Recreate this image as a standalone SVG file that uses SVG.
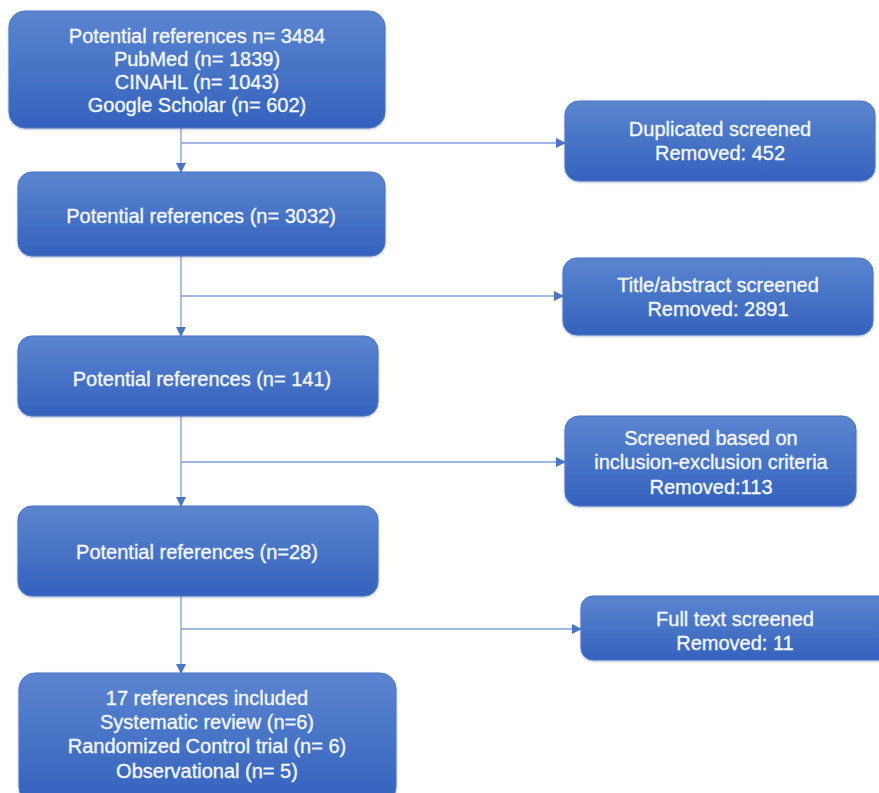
<svg xmlns="http://www.w3.org/2000/svg" width="879" height="793" viewBox="0 0 879 793">
<defs>
<linearGradient id="g" x1="0" y1="0" x2="0" y2="1">
<stop offset="0" stop-color="#5b85d0"/>
<stop offset="1" stop-color="#3462bd"/>
</linearGradient>
<marker id="ah" markerWidth="10" markerHeight="10" refX="9" refY="5" orient="auto" markerUnits="userSpaceOnUse">
<path d="M0,0 L10,5 L0,10 Z" fill="#4a76c6"/>
</marker>
<filter id="sh" x="-5%" y="-5%" width="110%" height="115%">
<feDropShadow dx="0" dy="1" stdDeviation="1" flood-color="#1e3a78" flood-opacity="0.35"/>
</filter>
</defs>
<style>
.box{fill:url(#g);stroke:#4a74c2;stroke-width:1;filter:url(#sh)}
.t{font-family:"Liberation Sans",Arial,sans-serif;font-size:20px;fill:#f4f7fc;stroke:#f4f7fc;stroke-width:0.35;text-anchor:middle}
.c{stroke:#7f9fd8;stroke-width:1.3;fill:none}
</style>
<rect width="879" height="793" fill="#ffffff"/>
<g id="connectors">
<line class="c" x1="181" y1="128" x2="181" y2="172" marker-end="url(#ah)"/>
<line class="c" x1="181" y1="143" x2="565" y2="143" marker-end="url(#ah)"/>
<line class="c" x1="181" y1="256" x2="181" y2="336" marker-end="url(#ah)"/>
<line class="c" x1="181" y1="296" x2="563" y2="296" marker-end="url(#ah)"/>
<line class="c" x1="181" y1="416" x2="181" y2="506" marker-end="url(#ah)"/>
<line class="c" x1="181" y1="462" x2="565" y2="462" marker-end="url(#ah)"/>
<line class="c" x1="181" y1="596" x2="181" y2="673" marker-end="url(#ah)"/>
<line class="c" x1="181" y1="629" x2="581" y2="629" marker-end="url(#ah)"/>
</g>
<g id="n1">
<rect class="box" x="9" y="11" width="376" height="117" rx="16"/>
<text class="t" x="197" y="42.5">Potential references n= 3484</text>
<text class="t" x="197" y="65.5">PubMed (n= 1839)</text>
<text class="t" x="197" y="88.5">CINAHL (n= 1043)</text>
<text class="t" x="197" y="111.5">Google Scholar (n= 602)</text>
</g>
<g id="n2">
<rect class="box" x="18" y="172" width="367" height="84" rx="14"/>
<text class="t" x="201" y="223">Potential references (n= 3032)</text>
</g>
<g id="n3">
<rect class="box" x="18" y="336" width="360" height="80" rx="14"/>
<text class="t" x="202" y="386">Potential references (n= 141)</text>
</g>
<g id="n4">
<rect class="box" x="18" y="506" width="360" height="90" rx="14"/>
<text class="t" x="197" y="559">Potential references (n=28)</text>
</g>
<g id="n5">
<rect class="box" x="19" y="673" width="377" height="130" rx="16"/>
<text class="t" x="207" y="705">17 references included</text>
<text class="t" x="207" y="729">Systematic review (n=6)</text>
<text class="t" x="207" y="753">Randomized Control trial (n= 6)</text>
<text class="t" x="207" y="778">Observational (n= 5)</text>
</g>
<g id="r1">
<rect class="box" x="565" y="101" width="310" height="80" rx="14"/>
<text class="t" x="720" y="136">Duplicated screened</text>
<text class="t" x="720" y="160">Removed: 452</text>
</g>
<g id="r2">
<rect class="box" x="563" y="258" width="310" height="77" rx="14"/>
<text class="t" x="718" y="292">Title/abstract screened</text>
<text class="t" x="718" y="316">Removed: 2891</text>
</g>
<g id="r3">
<rect class="box" x="565" y="416" width="291" height="90" rx="14"/>
<text class="t" x="711" y="445">Screened based on</text>
<text class="t" x="711" y="469">inclusion-exclusion criteria</text>
<text class="t" x="711" y="494">Removed:113</text>
</g>
<g id="r4">
<rect class="box" x="581" y="596" width="310" height="64" rx="12"/>
<text class="t" x="735" y="626">Full text screened</text>
<text class="t" x="735" y="650">Removed: 11</text>
</g>
</svg>
